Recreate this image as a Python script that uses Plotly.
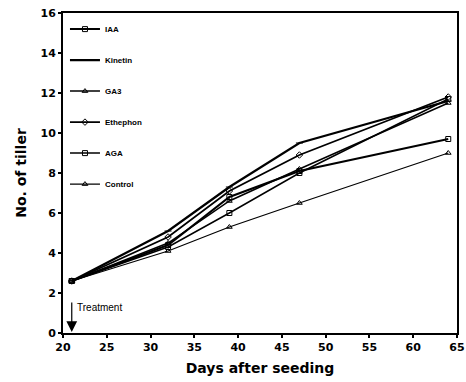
import plotly.graph_objects as go

days = [21, 32, 39, 47, 64]
series_names = ["IAA", "Kinetin", "GA3", "Ethephon", "AGA", "Control"]
iaa = [2.6, 4.4, 6.8, 8.1, 9.7]
kinetin = [2.6, 5.1, 7.3, 9.5, 11.6]
ga3 = [2.6, 4.5, 6.6, 8.2, 11.5]
ethephon = [2.6, 4.8, 7.1, 8.9, 11.8]
aga = [2.6, 4.3, 6.0, 8.0, 11.7]
control = [2.6, 4.1, 5.3, 6.5, 9.0]
values = [iaa, kinetin, ga3, ethephon, aga, control]
symbols = ["square-open", "line-ew", "triangle-up-open", "diamond-open", "square-open", "triangle-up-open"]
widths = [2, 2.2, 1.5, 1.8, 1.5, 1.2]

x_ticks = list(range(20, 66, 5))
y_ticks = list(range(0, 17, 2))

fig = go.Figure()
for i, (name, vals) in enumerate(zip(series_names, values)):
    fig.add_trace(go.Scatter(
        x=days, y=vals, name=name, mode="lines+markers",
        line=dict(color="black", width=widths[i]),
        marker=dict(symbol=symbols[i], size=5, color="black",
                    line=dict(color="black", width=1)),
        legendgroup=name,
    ))

fig.add_annotation(x=21, y=0.05, ax=21, ay=1.6, xref="x", yref="y", axref="x", ayref="y",
                   showarrow=True, arrowhead=2, arrowsize=1.8, arrowwidth=1.2,
                   arrowcolor="black", text="")
fig.add_annotation(x=21.4, y=1.3, xref="x", yref="y", text="Treatment", showarrow=False,
                   xanchor="left", font=dict(family="Liberation Sans", size=10, color="black"))

axis_common = dict(showline=True, linecolor="black", linewidth=2, mirror=True,
                   ticks="outside", ticklen=3, tickwidth=1.5, tickcolor="black",
                   showgrid=False, zeroline=False, automargin=False,
                   ticklabeloverflow="allow",
                   tickfont=dict(family="DejaVu Sans", size=11, color="black", weight="bold"))

fig.update_layout(
    width=466, height=382,
    margin=dict(l=63, r=9, t=13, b=49, autoexpand=False),
    paper_bgcolor="white", plot_bgcolor="white",
    xaxis=dict(range=[20, 65], tickvals=x_ticks,
               title=dict(text="Days after seeding", standoff=10,
                          font=dict(family="DejaVu Sans", size=14, color="black", weight="bold")),
               **axis_common),
    yaxis=dict(range=[0, 16], tickvals=y_ticks,
               title=dict(text="No. of tiller", standoff=11,
                          font=dict(family="DejaVu Sans", size=14, color="black", weight="bold")),
               **axis_common),
    legend=dict(x=0.005, y=0.995, xanchor="left", yanchor="top", bgcolor="rgba(0,0,0,0)",
                font=dict(family="Liberation Sans", size=8, color="black", weight="bold"),
                tracegroupgap=12, itemwidth=30),
    showlegend=True,
)

fig.write_html("out.html", config={"displayModeBar": False},
               post_script="document.body.style.margin='0';")
